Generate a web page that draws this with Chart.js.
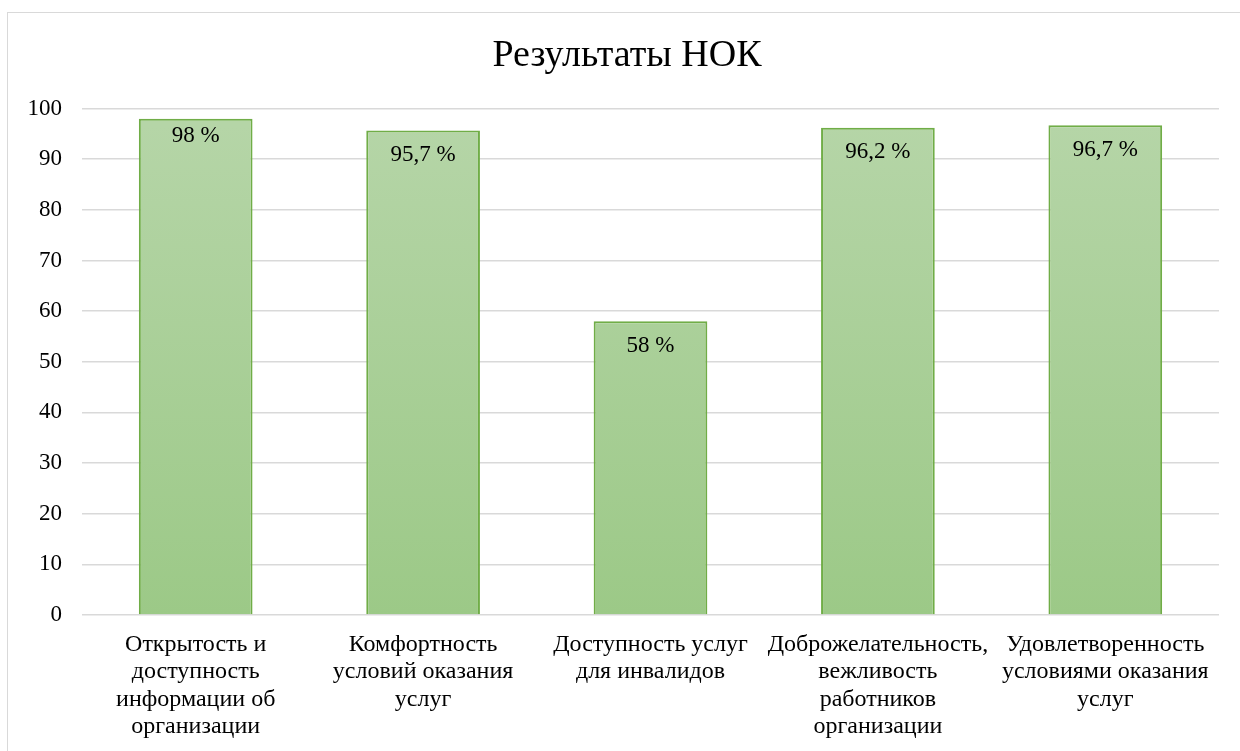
<!DOCTYPE html>
<html>
<head>
<meta charset="utf-8">
<script src="https://cdn.jsdelivr.net/npm/chart.js@4/dist/chart.umd.min.js"></script>
<style>
  html, body { margin: 0; padding: 0; background: #fff; }
  #wrap { position: relative; width: 1240px; height: 751px; overflow: hidden; }
  #frame { position: absolute; left: 7px; top: 12px; width: 1300px; height: 800px; border: 1.5px solid #d9d9d9; box-sizing: border-box; }
  canvas { position: absolute; left: 0; top: 0; }
</style>
</head>
<body>
<div id="wrap">
  <div id="frame"></div>
  <canvas id="c" width="1240" height="751"></canvas>
</div>
<script>
const chartTitle = "Результаты НОК";
const categories = [
  ["Открытость и", "доступность", "информации об", "организации"],
  ["Комфортность", "условий оказания", "услуг"],
  ["Доступность услуг", "для инвалидов"],
  ["Доброжелательность,", "вежливость", "работников", "организации"],
  ["Удовлетворенность", "условиями оказания", "услуг"]
];
const values = [98, 95.7, 58, 96.2, 96.7];
const yTicks = [0, 10, 20, 30, 40, 50, 60, 70, 80, 90, 100];

const FONT = "'Liberation Serif', 'Times New Roman', serif";

const gradientPlugin = {
  id: 'barGradient',
  beforeDatasetsDraw(chart) {
    const ctx = chart.ctx;
    chart.getDatasetMeta(0).data.forEach(el => {
      const g = ctx.createLinearGradient(0, el.y, 0, el.base);
      g.addColorStop(0, '#b5d5a7');
      g.addColorStop(1, '#9cc987');
      el.options.backgroundColor = g;
    });
  }
};

const labelPlugin = {
  id: 'valueLabels',
  afterDatasetsDraw(chart) {
    const ctx = chart.ctx;
    ctx.save();
    ctx.font = "23px " + FONT;
    ctx.fillStyle = '#000';
    ctx.textAlign = 'center';
    ctx.textBaseline = 'middle';
    chart.getDatasetMeta(0).data.forEach((el, i) => {
      const txt = String(values[i]).replace('.', ',') + ' %';
      // the first label sits a little higher in the source picture
      const off = i === 0 ? 17 : 24.5;
      ctx.fillText(txt, el.x, el.y + off);
    });
    ctx.restore();
  }
};

// Title drawn centred within the outer frame (frame starts at x=7)
const titlePlugin = {
  id: 'frameTitle',
  afterDraw(chart) {
    const ctx = chart.ctx;
    const tb = chart.titleBlock;
    ctx.save();
    ctx.font = "38px " + FONT;
    ctx.fillStyle = '#000';
    ctx.textAlign = 'center';
    ctx.textBaseline = 'middle';
    const cx = (35 + chart.chartArea.right) / 2;
    const cy = tb.top + tb.options.padding.top + 38 * 1.2 / 2;
    ctx.fillText(chartTitle, cx, cy);
    ctx.restore();
  }
};

new Chart(document.getElementById('c'), {
  type: 'bar',
  data: {
    labels: categories,
    datasets: [{
      data: values,
      backgroundColor: '#a9cf98',
      borderColor: '#70ad47',
      borderWidth: 2,
      borderSkipped: 'bottom',
      categoryPercentage: 1,
      barPercentage: 0.5
    }]
  },
  options: {
    responsive: false,
    animation: false,
    devicePixelRatio: 1,
    layout: { padding: { left: 0, right: 21, top: 0, bottom: 0 } },
    plugins: {
      legend: { display: false },
      tooltip: { enabled: false },
      title: {
        display: true,
        text: chartTitle,
        color: 'rgba(0,0,0,0)',
        font: { family: FONT, size: 38, weight: 'normal', lineHeight: 1.2 },
        padding: { top: 33, bottom: 30 }
      }
    },
    scales: {
      y: {
        min: 0, max: 100,
        afterBuildTicks(scale) { scale.ticks = yTicks.map(v => ({ value: v })); },
        afterFit(scale) { scale.width = 82; },
        border: { display: false },
        grid: { color: '#d9d9d9', lineWidth: 1.5, drawTicks: false },
        ticks: { color: '#000', padding: 20, font: { family: FONT, size: 23 } }
      },
      x: {
        afterFit(scale) { scale.height = 136; },
        border: { display: false },
        grid: { display: false, drawTicks: false },
        ticks: {
          color: '#000', padding: 16, maxRotation: 0, autoSkip: false,
          font: { family: FONT, size: 24, lineHeight: 1.14 }
        }
      }
    }
  },
  plugins: [gradientPlugin, labelPlugin, titlePlugin]
});
</script>
</body>
</html>
